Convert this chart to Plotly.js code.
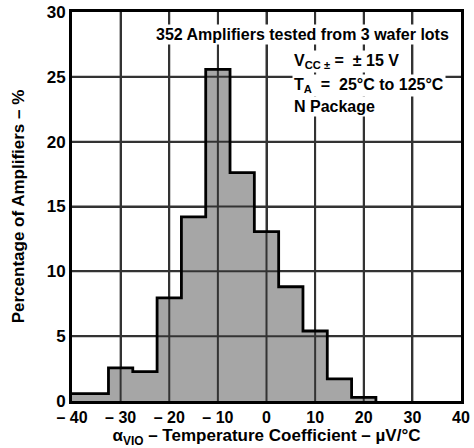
<!DOCTYPE html>
<html>
<head>
<meta charset="utf-8">
<script src="https://cdn.plot.ly/plotly-3.0.1.min.js"></script>
<style>html,body{margin:0;padding:0;background:#fff;}#chart{width:474px;height:448px;}</style>
</head>
<body>
<div id="chart"></div>
<script>
// Bin edges (µV/°C) and percentage of amplifiers per bin
const binLeft  = [-40, -32.5, -27.5, -22.5, -17.5, -12.5, -7.5, -2.5, 2.5, 7.5, 12.5, 17.5];
const binRight = [-32.5, -27.5, -22.5, -17.5, -12.5, -7.5, -2.5, 2.5, 7.5, 12.5, 17.5, 22.5];
const percent  = [0.57, 2.56, 2.27, 7.95, 14.2, 25.57, 17.61, 13.07, 8.81, 5.4, 1.7, 0.28];

const xTickVals = [-40, -30, -20, -10, 0, 10, 20, 30, 40];
const xTickText = ['\u2013 40', '\u2013 30', '\u2013 20', '\u2013 10', '0', '10', '20', '30', '40'];
const yTickVals = [0, 5, 10, 15, 20, 25, 30];
const yTickText = ['0', '5', '10', '15', '20', '25', '30'];

const FONT = 'Liberation Sans, Arial, Helvetica, sans-serif';

const xMin = xTickVals[0], xMax = xTickVals[xTickVals.length - 1];
const yMin = yTickVals[0], yMax = yTickVals[yTickVals.length - 1];

const bars = {
  type: 'bar',
  x: binLeft.map((l, i) => (l + binRight[i]) / 2),
  y: percent,
  width: binLeft.map((l, i) => binRight[i] - l),
  marker: {color: '#a6a6a6'},
  showlegend: false
};

// grid lines drawn over the bars (as in the reference), one trace per line
const gridTraces = [];
xTickVals.slice(1, -1).forEach(v => gridTraces.push({
  type: 'scatter', mode: 'lines', x: [v, v], y: [yMin, yMax],
  line: {color: '#333333', width: 2, shape: 'hv'}, showlegend: false
}));
yTickVals.slice(1, -1).forEach(v => gridTraces.push({
  type: 'scatter', mode: 'lines', x: [xMin, xMax], y: [v, v],
  line: {color: '#333333', width: 2, shape: 'hv'}, showlegend: false
}));

const outline = {
  type: 'scatter',
  mode: 'lines',
  x: binLeft.concat([binRight[binRight.length - 1]]),
  y: percent.concat([0]),
  line: {shape: 'hv', color: 'black', width: 2.8},
  showlegend: false
};

const annFont = {family: FONT, size: 16, color: 'black'};
const layout = {
  width: 474, height: 448,
  margin: {l: 72, r: 13, t: 12, b: 47},
  bargap: 0,
  showlegend: false,
  font: {family: FONT, color: 'black'},
  xaxis: {
    range: [xMin, xMax], tickvals: xTickVals, ticktext: xTickText.map(t => '<b>' + t + '</b>'),
    showgrid: true, gridcolor: '#333333', gridwidth: 1.5, zeroline: false,
    showline: true, mirror: true, linecolor: 'black', linewidth: 3,
    tickfont: {family: FONT, size: 16},
    title: {text: '<b>\u03b1<sub>VIO</sub> \u2013 Temperature Coefficient \u2013 \u00b5V/\u00b0C</b>',
            font: {family: FONT, size: 17}, standoff: 5}
  },
  yaxis: {
    range: [yMin, yMax], tickvals: yTickVals, ticktext: yTickText.map(t => '<b>' + t + '</b>'),
    showgrid: true, gridcolor: '#333333', gridwidth: 1.5, zeroline: false,
    showline: true, mirror: true, linecolor: 'black', linewidth: 3,
    tickfont: {family: FONT, size: 17},
    title: {text: '<b>Percentage of Amplifiers \u2013 %</b>',
            font: {family: FONT, size: 17}, standoff: 18}
  },
  annotations: [
    {text: '<b>352 Amplifiers tested from 3 wafer lots</b>', xref: 'paper', yref: 'paper',
     x: 0.975, y: 0.942, xanchor: 'right', yanchor: 'middle', showarrow: false,
     font: annFont, bgcolor: 'white', borderpad: 1},
    {text: '<b>V<sub>CC \u00b1</sub> =  \u00b1 15 V</b>', xref: 'paper', yref: 'paper',
     x: 0.565, y: 0.872, xanchor: 'left', yanchor: 'middle', showarrow: false,
     font: annFont, bgcolor: 'white', borderpad: 1},
    {text: '<b>T<sub>A</sub>  =  25\u00b0C to 125\u00b0C</b>', xref: 'paper', yref: 'paper',
     x: 0.565, y: 0.812, xanchor: 'left', yanchor: 'middle', showarrow: false,
     font: annFont, bgcolor: 'white', borderpad: 1},
    {text: '<b>N Package</b>', xref: 'paper', yref: 'paper',
     x: 0.565, y: 0.757, xanchor: 'left', yanchor: 'middle', showarrow: false,
     font: annFont, bgcolor: 'white', borderpad: 1}
  ]
};

Plotly.newPlot('chart', [bars].concat(gridTraces).concat([outline]), layout, {displayModeBar: false});
</script>
</body>
</html>
